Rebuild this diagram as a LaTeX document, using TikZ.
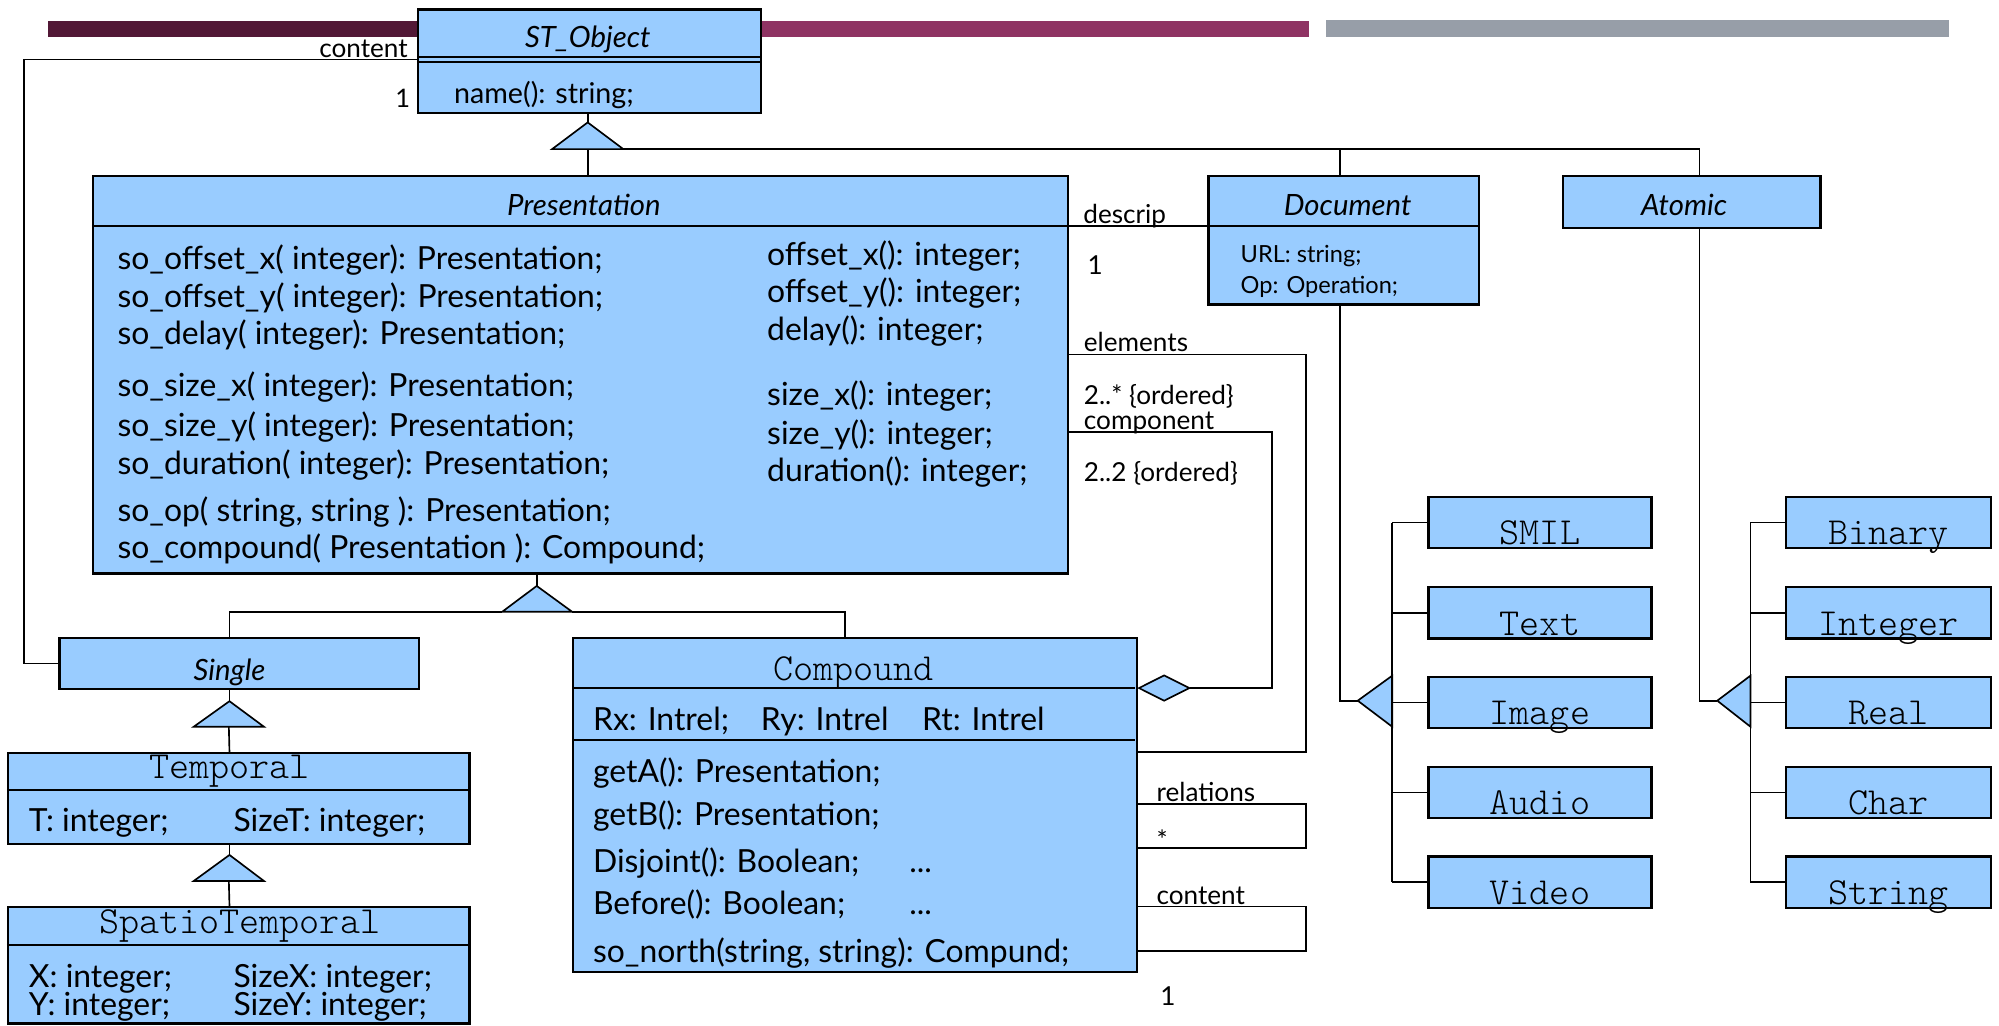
\documentclass[tikz,border=0pt]{standalone}
\usepackage{fontspec}
\setmainfont{Lato}
\setmonofont{Latin Modern Mono Light}
\usetikzlibrary{calc,shapes.geometric}
\definecolor{umlfill}{HTML}{99CCFF}
\definecolor{barA}{HTML}{521836}
\definecolor{barB}{HTML}{8F3363}
\definecolor{barC}{HTML}{979EA8}
\tikzset{
  cls/.style={draw=black, line width=1.8pt, fill=umlfill, inner sep=0pt, anchor=north west},
  sep/.style={line width=1.6pt},
  conn/.style={line width=1.3pt},
  gen/.style={draw=black, line width=1.3pt, fill=umlfill},
  txt/.style={inner sep=0pt, anchor=west, yshift=-4.5pt, text height=0.75em, text depth=0.25em, font=\fontsize{25}{27}\selectfont},
  small/.style={txt, font=\fontsize{20.5}{22}\selectfont},
  tiny/.style={txt, font=\fontsize{18.5}{20}\selectfont},
  head/.style={txt, anchor=center, font=\fontsize{23}{25}\selectfont\itshape},
  mono/.style={txt, anchor=center, yshift=-2pt, font=\fontsize{30}{32}\selectfont\ttfamily},
}
\begin{document}
\begin{tikzpicture}[x=1pt, y=-1pt]
\useasboundingbox (0,0) rectangle (1568,804);

% title bars
\fill[barA] (38,16.5) rectangle (462,29);
\fill[barB] (462,16.5) rectangle (1027,29);
\fill[barC] (1040,16) rectangle (1529,29);

% ---------- class boxes ----------
\node[cls, minimum width=269pt, minimum height=81pt] (stobj) at (327,6.5) {};
\draw[sep] (327,45) -- (596,45);
\draw[sep] (327,48.6) -- (596,48.6);
\node[head] (stobjN) at (461,30) {ST\_Object};
\node[txt, font=\fontsize{22.5}{24}\selectfont] (stobjM) at (356,74) {name(): string;};

\node[cls, minimum width=765pt, minimum height=312pt] (pres) at (72,137) {};
\draw[sep] (72,177.5) -- (837,177.5);
\node[head] (presN) at (458,162) {Presentation};
\foreach \t [count=\i] in {%
  {so\_offset\_x( integer): Presentation;},
  {so\_offset\_y( integer): Presentation;},
  {so\_delay( integer): Presentation;},
  {so\_size\_x( integer): Presentation;},
  {so\_size\_y( integer): Presentation;},
  {so\_duration( integer): Presentation;},
  {so\_op( string, string ): Presentation;},
  {so\_compound( Presentation ): Compound;}}{%
  \pgfmathsetmacro{\yy}{{204,234,263,304,335,365,402,431}[\i-1]}
  \node[txt] (pl\i) at (92,\yy) {\t};
}
\foreach \t [count=\i] in {%
  {offset\_x(): integer;},
  {offset\_y(): integer;},
  {delay(): integer;},
  {size\_x(): integer;},
  {size\_y(): integer;},
  {duration(): integer;}}{%
  \pgfmathsetmacro{\yy}{{201,230,260,311,342,371}[\i-1]}
  \node[txt] (pr\i) at (601.6,\yy) {\t};
}

\node[cls, minimum width=212pt, minimum height=101pt] (doc) at (947,137) {};
\draw[sep] (947,177.5) -- (1159,177.5);
\node[head] (docN) at (1057,162) {Document};
\node[tiny] (docA) at (973,198.6) {URL: string;};
\node[tiny] (docB) at (973,223.6) {Op: Operation;};

\node[cls, minimum width=202pt, minimum height=41pt] (atomic) at (1225,137) {};
\node[head] (atomicN) at (1321,162) {Atomic};

\node[cls, minimum width=282pt, minimum height=40.3pt] (single) at (45.7,499.4) {};
\node[head] (singleN) at (180,526.8) {Single};

\node[cls, minimum width=362pt, minimum height=71pt] (temporal) at (5.4,590) {};
\draw[sep] (5.4,620) -- (367.4,620);
\node[mono] (temporalN) at (180,601.5) {Temporal};
\node[txt] (tA) at (22.5,645.6) {T: integer;};
\node[txt] (tB) at (183,645.6) {SizeT: integer;};

\node[cls, minimum width=362pt, minimum height=91.3pt] (spatio) at (5.4,710.7) {};
\draw[sep] (5.4,741) -- (367.4,741);
\node[mono] (spatioN) at (188,723.5) {SpatioTemporal};
\node[txt] (sA) at (22.5,767.3) {X: integer;};
\node[txt] (sB) at (183,767.3) {SizeX: integer;};
\node[txt] (sC) at (22.5,789.6) {Y: integer;};
\node[txt] (sD) at (183,789.6) {SizeY: integer;};

\node[cls, minimum width=442pt, minimum height=262pt] (comp) at (448.7,499.7) {};
\draw[sep] (448.7,539.8) -- (890.6,539.8);
\draw[sep] (448.7,580.4) -- (890.6,580.4);
\node[mono] (compN) at (669.5,524.5) {Compound};
\node[txt] (cA) at (465,566) {Rx: Intrel;};
\node[txt] (cB) at (596.6,566) {Ry: Intrel};
\node[txt] (cC) at (723,566) {Rt: Intrel};
\node[txt] (cD) at (465,606.5) {getA(): Presentation;};
\node[txt] (cE) at (465,640.6) {getB(): Presentation;};
\node[txt] (cF) at (465,677) {Disjoint(): Boolean;};
\node[txt] (cG) at (713,677) {...};
\node[txt] (cH) at (465,710) {Before(): Boolean;};
\node[txt] (cI) at (713,710) {...};
\node[txt] (cJ) at (465,747.6) {so\_north(string, string): Compund;};

% media and atomic leaf classes
\foreach \n/\y in {SMIL/388.8, Text/459.6, Image/530, Audio/600.6, Video/671}{
  \node[cls, minimum width=175pt, minimum height=40.3pt] (\n) at (1119.5,\y) {};
  \node[mono, anchor=center] (\n N) at ($(\n.center)+(0,8.5)$) {\n};
}
\foreach \n/\y in {Binary/388.8, Integer/459.6, Real/530, Char/600.6, String/671}{
  \node[cls, minimum width=161pt, minimum height=40.3pt] (\n) at (1400,\y) {};
  \node[mono, anchor=center] (\n N) at ($(\n.center)+(0,8.5)$) {\n};
}

% ---------- generalization triangles ----------
\coordinate (g1) at (461,96);   \coordinate (g1l) at (433,117);  \coordinate (g1r) at (489,117);
\coordinate (g2) at (421,459.6);\coordinate (g2l) at (394,479.8);\coordinate (g2r) at (448.7,479.8);
\coordinate (g3) at (180,550);  \coordinate (g3l) at (152,570);  \coordinate (g3r) at (207,570);
\coordinate (g4) at (180,670.6);\coordinate (g4l) at (152,691);  \coordinate (g4r) at (207,691);
\coordinate (g5) at (1065,549.6);\coordinate (g5t) at (1092,530);\coordinate (g5b) at (1092,570);
\coordinate (g6) at (1347,549.6);\coordinate (g6t) at (1373,530);\coordinate (g6b) at (1373,570);
\foreach \g/\a/\b in {g1/g1l/g1r, g2/g2l/g2r, g3/g3l/g3r, g4/g4l/g4r, g5/g5t/g5b, g6/g6t/g6b}{
  \draw[gen] (\g) -- (\a) -- (\b) -- cycle;
}

% ---------- inheritance connectors ----------
\draw[conn] (g1 |- stobj.south) -- (g1);
\draw[conn] ($(g1l)!0.5!(g1r)$) -- (g1 |- pres.north);
\coordinate (jdoc) at (1051,117);
\coordinate (jat) at (1333,117);
\draw[conn] (g1r) -- (jat) -- (jat |- atomic.north);
\draw[conn] (jdoc) -- (jdoc |- doc.north);

\draw[conn] (g2 |- pres.south) -- (g2);
\coordinate (jsingle) at (180,479.8);
\coordinate (jcomp) at (662.6,479.8);
\draw[conn] (g2l) -- (jsingle) -- (jsingle |- single.north);
\draw[conn] (g2r) -- (jcomp) -- (jcomp |- comp.north);

\draw[conn] (g3 |- single.south) -- (g3);
\draw[conn] ($(g3l)!0.5!(g3r)$) -- (g3 |- temporal.north);
\draw[conn] (g4 |- temporal.south) -- (g4);
\draw[conn] ($(g4l)!0.5!(g4r)$) -- (g4 |- spatio.north);

\draw[conn] (jdoc |- doc.south) -- (jdoc |- g5) -- (g5);
\draw[conn] (jat |- atomic.south) -- (jat |- g6) -- (g6);
\draw[conn] (g5t |- SMIL.west) -- (g5t |- Video.west);
\draw[conn] (g6t |- Binary.west) -- (g6t |- String.west);
\foreach \n in {SMIL, Text, Image, Audio, Video}{
  \draw[conn] (g5t |- \n.west) -- (\n.west);
}
\foreach \n in {Binary, Integer, Real, Char, String}{
  \draw[conn] (g6t |- \n.west) -- (\n.west);
}

% ---------- associations ----------
\coordinate (cl) at (18.6,46.6);
\draw[conn] (stobj.west |- cl) -- (cl) -- (cl |- single.west) -- (single.west);
\node[small, anchor=east] (lcontent) at (320,38) {content};
\node[txt, font=\fontsize{20}{22}\selectfont] (lone1) at (310,77) {1};

\draw[conn] (pres.east |- 0,177.5) -- (doc.west |- 0,177.5);
\node[small] (ldescrip) at (849.6,168.6) {descrip};
\node[small] (lone2) at (853,208) {1};

\coordinate (ea) at (1024.6,278);
\coordinate (eb) at (1024.6,590);
\draw[conn] (pres.east |- ea) -- (ea) -- (eb) -- (comp.east |- eb);
\node[small] (lelem) at (850,268.8) {elements};
\node[small] (lmult1) at (850,310) {2..* \{ordered\}};

\node[draw=black, line width=1.3pt, fill=umlfill, shape=diamond, inner sep=0pt,
      minimum width=40pt, minimum height=20.4pt, anchor=west] (agg) at (comp.east |- 0,539.7) {};
\coordinate (ca) at (997.5,338.6);
\draw[conn] (pres.east |- ca) -- (ca) -- (ca |- agg.east) -- (agg.east);
\node[small] (lcomp) at (850,330) {component};
\node[small] (lmult2) at (850,370.8) {2..2 \{ordered\}};

\coordinate (ra) at (1024.6,630.7);
\coordinate (rb) at (1024.6,665);
\draw[conn] (comp.east |- ra) -- (ra) -- (rb) -- (comp.east |- rb);
\node[small] (lrel) at (907,621.8) {relations};
\node[small] (lstar) at (907,659.7) {*};

\coordinate (ka) at (1024.6,711);
\coordinate (kb) at (1024.6,746);
\draw[conn] (comp.east |- ka) -- (ka) -- (kb) -- (comp.east |- kb);
\node[small] (lcont2) at (907,702.8) {content};
\node[small] (lone3) at (910,782) {1};
\end{tikzpicture}
\end{document}
